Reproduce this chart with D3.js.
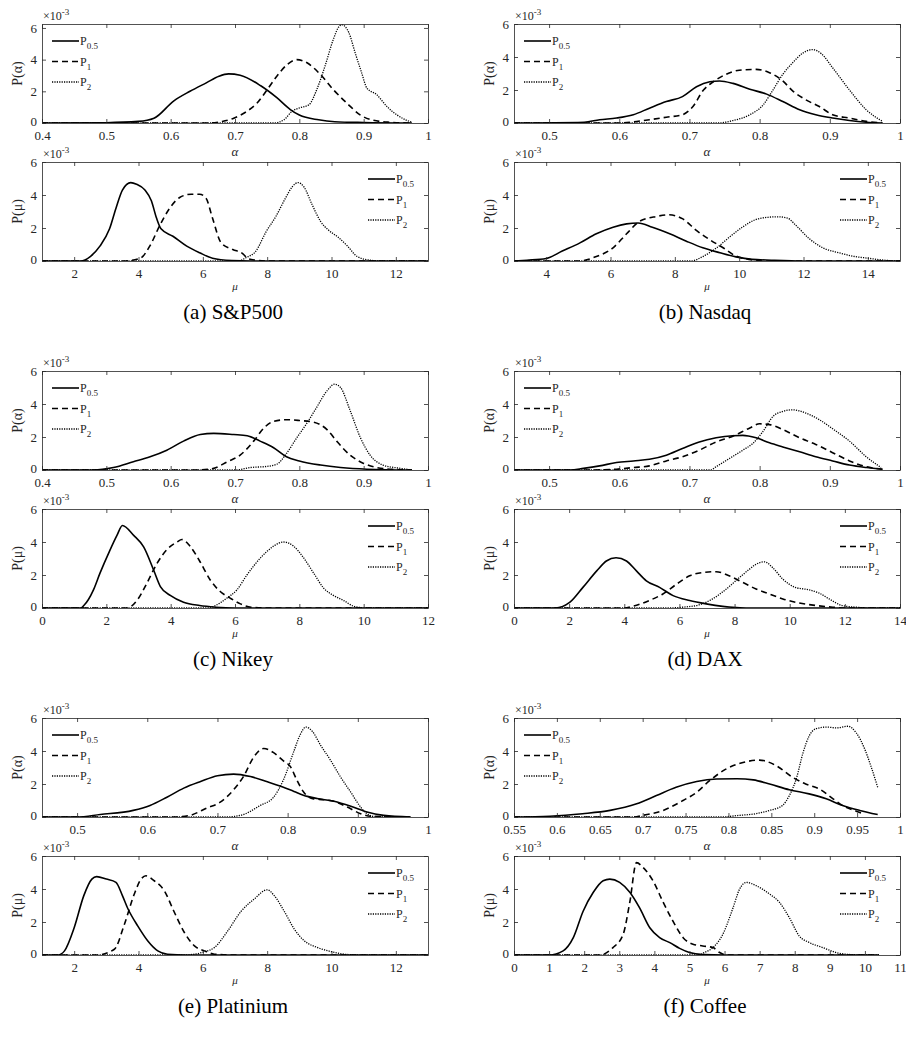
<!DOCTYPE html>
<html>
<head>
<meta charset="utf-8">
<script src="https://cdn.jsdelivr.net/npm/d3@7"></script>
<style>
  body { margin: 0; background: #fff; }
  svg text { font-family: "Liberation Serif", "Times New Roman", serif; }
</style>
</head>
<body>
<svg id="fig" width="906" height="1045"></svg>
<script>
// ---- Panel titles ----
const captions = ["(a) S&P500", "(b) Nasdaq", "(c) Nikey", "(d) DAX", "(e) Platinium", "(f) Coffee"];

// ---- Axis ranges and ticks (alpha panels, then mu panels) ----
const alphaDomains = [[0.4, 1], [0.45, 1], [0.4, 1], [0.45, 1], [0.45, 1], [0.55, 1]];
const alphaTicks = [
  [0.4, 0.5, 0.6, 0.7, 0.8, 0.9, 1],
  [0.5, 0.6, 0.7, 0.8, 0.9, 1],
  [0.4, 0.5, 0.6, 0.7, 0.8, 0.9, 1],
  [0.5, 0.6, 0.7, 0.8, 0.9, 1],
  [0.5, 0.6, 0.7, 0.8, 0.9, 1],
  [0.55, 0.6, 0.65, 0.7, 0.75, 0.8, 0.85, 0.9, 0.95, 1]
];
const alphaYMax = [6.25, 6, 6, 6, 6, 6];
const muDomains = [[1, 13], [3, 15], [0, 12], [0, 14], [1, 13], [0, 11]];
const muTicks = [
  [2, 4, 6, 8, 10, 12],
  [4, 6, 8, 10, 12, 14],
  [0, 2, 4, 6, 8, 10, 12],
  [0, 2, 4, 6, 8, 10, 12, 14],
  [2, 4, 6, 8, 10, 12],
  [0, 1, 2, 3, 4, 5, 6, 7, 8, 9, 10, 11]
];
const yTicks = [0, 2, 4, 6];
const seriesNames = ["0.5", "1", "2"];

// ---- Density curves, values in units of 1e-3 ----
// (a) S&P500
const spAlphaP05 = [[0.40,0],[0.50,0.02],[0.55,0.1],[0.574,0.3],[0.605,1.4],[0.63,2.0],[0.656,2.55],[0.675,2.95],[0.69,3.1],[0.708,3.02],[0.74,2.35],[0.765,1.6],[0.786,0.85],[0.80,0.5],[0.83,0.2],[0.855,0.08],[0.9,0.03],[0.975,0]];
const spAlphaP1 = [[0.40,0],[0.66,0],[0.68,0.1],[0.698,0.3],[0.719,0.75],[0.734,1.25],[0.75,2.1],[0.765,2.95],[0.78,3.65],[0.796,4.0],[0.812,3.8],[0.833,3.05],[0.853,2.1],[0.874,1.25],[0.895,0.5],[0.915,0.17],[0.94,0.05],[0.975,0]];
const spAlphaP2 = [[0.40,0],[0.76,0],[0.776,0.2],[0.789,0.75],[0.80,0.95],[0.815,1.15],[0.827,2.1],[0.84,3.6],[0.853,5.3],[0.861,6.05],[0.866,6.2],[0.877,5.7],[0.887,4.4],[0.897,3.15],[0.905,2.2],[0.92,1.8],[0.936,1.05],[0.952,0.5],[0.967,0.17],[0.975,0.05]];
const spMuP05 = [[1,0],[2.2,0],[2.5,0.27],[2.8,0.9],[3.1,1.95],[3.3,3.2],[3.5,4.3],[3.76,4.75],[3.94,4.65],[4.2,4.3],[4.4,3.65],[4.56,2.6],[4.7,1.95],[5.07,1.5],[5.5,0.9],[5.9,0.5],[6.3,0.17],[6.9,0.03],[7.5,0],[13,0]];
const spMuP1 = [[1,0],[3.5,0],[4.04,0.15],[4.35,0.9],[4.66,2.15],[4.97,3.2],[5.28,3.85],[5.64,4.05],[5.9,4.05],[6.1,3.8],[6.3,2.6],[6.57,1.1],[6.93,0.7],[7.24,0.45],[7.4,0.15],[7.65,0.05],[8,0],[13,0]];
const spMuP2 = [[1,0],[7.1,0],[7.34,0.2],[7.65,0.6],[7.96,1.75],[8.27,2.7],[8.58,3.85],[8.78,4.5],[8.96,4.75],[9.14,4.5],[9.4,3.4],[9.66,2.4],[9.92,1.85],[10.2,1.45],[10.5,0.9],[10.8,0.27],[11.2,0.05],[11.6,0],[13,0]];
// (b) Nasdaq
const ndAlphaP05 = [[0.45,0],[0.55,0.05],[0.572,0.2],[0.596,0.3],[0.62,0.5],[0.643,0.9],[0.667,1.3],[0.69,1.6],[0.71,2.2],[0.729,2.5],[0.743,2.55],[0.762,2.4],[0.786,2.05],[0.81,1.75],[0.833,1.3],[0.857,0.8],[0.88,0.5],[0.904,0.3],[0.928,0.15],[0.952,0.05],[0.975,0]];
const ndAlphaP1 = [[0.45,0],[0.60,0],[0.643,0.2],[0.667,0.35],[0.69,0.5],[0.705,1.0],[0.72,2.0],[0.734,2.5],[0.752,2.95],[0.771,3.2],[0.795,3.25],[0.814,3.05],[0.833,2.55],[0.847,1.95],[0.866,1.4],[0.885,1.0],[0.904,0.5],[0.928,0.3],[0.952,0.1],[0.975,0]];
const ndAlphaP2 = [[0.45,0],[0.74,0],[0.762,0.15],[0.786,0.5],[0.805,1.1],[0.819,2.0],[0.833,2.95],[0.847,3.65],[0.862,4.25],[0.875,4.45],[0.888,4.2],[0.904,3.35],[0.928,2.0],[0.952,0.8],[0.975,0.1]];
const ndMuP05 = [[3,0],[3.4,0.05],[4.0,0.15],[4.5,0.6],[5.05,1.1],[5.56,1.65],[6.08,2.05],[6.5,2.25],[6.86,2.3],[7.3,2.05],[7.84,1.65],[8.36,1.2],[8.87,0.8],[9.4,0.5],[9.9,0.25],[10.4,0.1],[11,0.05],[12,0],[15,0]];
const ndMuP1 = [[3,0],[5.0,0],[5.56,0.27],[6.08,0.8],[6.5,1.65],[6.9,2.4],[7.43,2.7],[7.8,2.8],[8.25,2.55],[8.67,1.85],[9.08,1.3],[9.5,0.8],[9.9,0.3],[10.3,0.1],[10.8,0],[15,0]];
const ndMuP2 = [[3,0],[8.5,0],[8.87,0.27],[9.3,0.8],[9.7,1.45],[10.1,2.05],[10.5,2.5],[10.9,2.65],[11.2,2.68],[11.5,2.6],[11.77,2.15],[12.18,1.35],[12.6,0.8],[13.1,0.5],[13.6,0.27],[14.0,0.17],[14.5,0.05],[15,0]];
// (c) Nikey
const nkAlphaP05 = [[0.4,0],[0.48,0],[0.511,0.15],[0.542,0.5],[0.568,0.8],[0.594,1.2],[0.62,1.75],[0.646,2.15],[0.667,2.22],[0.698,2.15],[0.719,2.08],[0.739,1.75],[0.76,1.35],[0.78,0.8],[0.8,0.55],[0.833,0.3],[0.864,0.15],[0.905,0.05],[0.975,0]];
const nkAlphaP1 = [[0.4,0],[0.64,0],[0.667,0.1],[0.688,0.5],[0.708,0.9],[0.729,1.75],[0.745,2.55],[0.76,2.95],[0.78,3.05],[0.8,3.0],[0.822,2.9],[0.843,2.45],[0.858,1.75],[0.879,0.9],[0.9,0.4],[0.92,0.15],[0.95,0.03],[0.975,0]];
const nkAlphaP2 = [[0.4,0],[0.7,0],[0.724,0.15],[0.75,0.22],[0.765,0.35],[0.78,1.0],[0.796,1.95],[0.812,2.85],[0.827,3.8],[0.843,4.8],[0.855,5.2],[0.864,5.0],[0.879,3.6],[0.895,1.95],[0.91,0.9],[0.93,0.3],[0.957,0.1],[0.975,0]];
const nkMuP05 = [[0,0],[1.2,0],[1.3,0.15],[1.6,1.1],[1.8,2.1],[2.1,3.45],[2.33,4.4],[2.5,5.0],[2.85,4.4],[3.16,3.7],[3.47,2.3],[3.68,1.3],[4.0,0.75],[4.4,0.35],[4.9,0.15],[5.4,0.05],[6,0],[12,0]];
const nkMuP1 = [[0,0],[2.65,0],[2.95,0.45],[3.26,1.5],[3.56,2.65],[3.89,3.55],[4.2,4.0],[4.35,4.15],[4.6,3.75],[4.9,2.85],[5.23,1.7],[5.54,1.0],[5.85,0.6],[6.17,0.25],[6.5,0.05],[7,0],[12,0]];
const nkMuP2 = [[0,0],[5.2,0],[5.34,0.1],[5.75,0.6],[6.06,1.1],[6.37,2.0],[6.8,3.05],[7.2,3.75],[7.51,4.0],[7.82,3.75],[8.13,3.05],[8.45,2.1],[8.76,1.2],[9.07,0.75],[9.38,0.45],[9.7,0.1],[10.1,0],[12,0]];
// (d) DAX
const dxAlphaP05 = [[0.45,0],[0.53,0],[0.549,0.1],[0.572,0.25],[0.596,0.45],[0.62,0.55],[0.643,0.65],[0.667,0.9],[0.69,1.3],[0.714,1.7],[0.738,1.95],[0.762,2.08],[0.776,2.1],[0.795,1.95],[0.814,1.65],[0.833,1.4],[0.857,1.1],[0.88,0.8],[0.904,0.55],[0.928,0.3],[0.952,0.15],[0.975,0.05]];
const dxAlphaP1 = [[0.45,0],[0.56,0],[0.596,0.05],[0.62,0.15],[0.643,0.25],[0.667,0.55],[0.69,0.8],[0.714,1.2],[0.738,1.7],[0.762,2.05],[0.786,2.55],[0.8,2.8],[0.814,2.75],[0.833,2.45],[0.857,1.95],[0.88,1.55],[0.904,1.05],[0.928,0.55],[0.952,0.2],[0.975,0.05]];
const dxAlphaP2 = [[0.45,0],[0.73,0],[0.738,0.2],[0.757,0.7],[0.776,1.2],[0.79,1.6],[0.805,2.35],[0.819,3.25],[0.833,3.55],[0.847,3.65],[0.866,3.45],[0.885,3.05],[0.904,2.5],[0.928,1.75],[0.952,0.8],[0.973,0.15]];
const dxMuP05 = [[0,0],[1.5,0],[2.03,0.35],[2.5,1.25],[3.0,2.25],[3.35,2.85],[3.7,3.05],[4.08,2.85],[4.44,2.25],[4.8,1.65],[5.28,1.25],[5.77,0.75],[6.37,0.45],[6.97,0.25],[7.57,0.1],[8.06,0.03],[8.5,0],[14,0]];
const dxMuP1 = [[0,0],[4.0,0],[4.3,0.1],[4.9,0.45],[5.4,0.85],[5.9,1.45],[6.37,1.95],[6.85,2.15],[7.33,2.2],[7.8,1.95],[8.3,1.55],[8.78,1.15],[9.26,0.85],[9.75,0.55],[10.35,0.3],[10.95,0.15],[11.56,0.05],[12,0],[14,0]];
const dxMuP2 = [[0,0],[5.5,0],[6.13,0.05],[6.73,0.2],[7.2,0.55],[7.7,1.15],[8.18,1.85],[8.54,2.35],[8.78,2.65],[9.08,2.8],[9.38,2.45],[9.75,1.75],[10.2,1.25],[10.7,1.1],[11.07,0.9],[11.43,0.55],[11.9,0.15],[12.4,0.05],[13,0],[14,0]];
// (e) Platinium
const ptAlphaP05 = [[0.45,0],[0.5,0],[0.533,0.15],[0.58,0.4],[0.604,0.7],[0.628,1.2],[0.652,1.75],[0.676,2.15],[0.7,2.5],[0.723,2.6],[0.747,2.45],[0.77,2.15],[0.794,1.8],[0.809,1.55],[0.828,1.25],[0.842,1.12],[0.866,0.95],[0.89,0.65],[0.913,0.3],[0.937,0.1],[0.975,0]];
const ptAlphaP1 = [[0.45,0],[0.64,0],[0.661,0.1],[0.685,0.55],[0.704,0.9],[0.723,1.65],[0.737,2.45],[0.752,3.65],[0.766,4.15],[0.78,3.9],[0.794,3.4],[0.804,3.05],[0.813,2.25],[0.823,1.5],[0.837,1.1],[0.851,1.05],[0.866,0.95],[0.885,0.6],[0.904,0.2],[0.918,0.05],[0.975,0]];
const ptAlphaP2 = [[0.45,0],[0.71,0],[0.733,0.1],[0.761,0.7],[0.78,1.2],[0.794,2.25],[0.809,4.0],[0.818,5.0],[0.826,5.45],[0.835,5.2],[0.847,4.35],[0.861,3.45],[0.875,2.45],[0.89,1.5],[0.904,0.6],[0.913,0.2],[0.923,0.03],[0.975,0]];
const ptMuP05 = [[1,0],[1.5,0],[1.7,0.25],[2.0,1.65],[2.3,3.6],[2.55,4.6],[2.7,4.75],[3.0,4.6],[3.3,4.4],[3.5,3.6],[3.66,2.85],[3.98,1.75],[4.29,0.85],[4.6,0.25],[4.9,0.05],[5.5,0],[13,0]];
const ptMuP1 = [[1,0],[2.7,0],[3.25,0.35],[3.56,1.85],[3.87,3.7],[4.08,4.6],[4.23,4.8],[4.49,4.5],[4.8,3.9],[5.1,2.65],[5.43,1.35],[5.74,0.55],[6.05,0.25],[6.36,0.05],[7,0],[13,0]];
const ptMuP2 = [[1,0],[5.4,0],[5.74,0.05],[6.05,0.2],[6.36,0.45],[6.77,1.45],[7.19,2.65],[7.6,3.4],[8.0,3.95],[8.22,3.6],[8.53,2.65],[8.85,1.55],[9.16,0.85],[9.57,0.45],[10.0,0.2],[10.5,0.03],[11,0],[13,0]];
// (f) Coffee
const cfAlphaP05 = [[0.55,0],[0.592,0.05],[0.63,0.2],[0.662,0.4],[0.693,0.8],[0.716,1.3],[0.739,1.8],[0.763,2.15],[0.786,2.3],[0.81,2.32],[0.829,2.25],[0.848,2.0],[0.871,1.65],[0.894,1.4],[0.914,1.1],[0.933,0.7],[0.953,0.4],[0.974,0.15]];
const cfAlphaP1 = [[0.55,0],[0.69,0],[0.7,0.1],[0.724,0.4],[0.747,1.0],[0.763,1.5],[0.778,2.2],[0.797,2.9],[0.817,3.3],[0.836,3.45],[0.856,3.1],[0.875,2.4],[0.89,2.0],[0.906,1.7],[0.922,1.1],[0.933,0.7],[0.949,0.35],[0.957,0.2]];
const cfAlphaP2 = [[0.55,0],[0.79,0],[0.813,0.1],[0.832,0.2],[0.848,0.4],[0.863,0.7],[0.871,1.3],[0.879,2.3],[0.887,3.9],[0.894,4.9],[0.902,5.35],[0.914,5.45],[0.926,5.4],[0.939,5.5],[0.949,5.1],[0.959,4.1],[0.966,3.1],[0.974,1.8]];
const cfMuP05 = [[0,0],[1.0,0],[1.4,0.25],[1.69,1.05],[1.97,2.65],[2.26,3.8],[2.54,4.5],[2.73,4.6],[3.01,4.4],[3.3,3.8],[3.58,2.85],[3.87,1.65],[4.15,1.05],[4.44,0.75],[4.72,0.4],[5.0,0.15],[5.38,0.03],[6,0],[10.4,0]];
const cfMuP1 = [[0,0],[2.45,0],[2.82,0.45],[3.11,1.25],[3.3,3.2],[3.49,5.6],[3.68,5.3],[3.96,4.5],[4.25,3.2],[4.53,2.05],[4.82,1.05],[5.1,0.65],[5.38,0.55],[5.67,0.45],[5.86,0.15],[6.05,0],[10.4,0]];
const cfMuP2 = [[0,0],[5.3,0],[5.38,0.1],[5.67,0.45],[5.95,1.25],[6.24,2.85],[6.43,4.0],[6.62,4.4],[6.9,4.2],[7.28,3.7],[7.56,3.2],[7.85,2.25],[8.13,1.15],[8.42,0.75],[8.8,0.45],[9.18,0.15],[9.55,0.03],[10,0],[10.4,0]];

const alphaSeries = [
  [spAlphaP05, spAlphaP1, spAlphaP2], [ndAlphaP05, ndAlphaP1, ndAlphaP2],
  [nkAlphaP05, nkAlphaP1, nkAlphaP2], [dxAlphaP05, dxAlphaP1, dxAlphaP2],
  [ptAlphaP05, ptAlphaP1, ptAlphaP2], [cfAlphaP05, cfAlphaP1, cfAlphaP2]
];
const muSeries = [
  [spMuP05, spMuP1, spMuP2], [ndMuP05, ndMuP1, ndMuP2],
  [nkMuP05, nkMuP1, nkMuP2], [dxMuP05, dxMuP1, dxMuP2],
  [ptMuP05, ptMuP1, ptMuP2], [cfMuP05, cfMuP1, cfMuP2]
];

// ---- Layout ----
const colX = [[42, 428], [514, 900]];
const rowTop = [24, 371, 718];
const panelH = 99;
const muOffset = 138;
const axisColor = "#262626";
const lineStyles = [
  { width: 1.6, dash: null },
  { width: 1.6, dash: "6,4" },
  { width: 1.3, dash: "1.2,1.2" }
];

const svg = d3.select("#fig");

function drawPanel(x0, x1, y0, xDomain, xTickVals, yMax, series, varName, legendRight, labelGap, labelSize) {
  const x = d3.scaleLinear().domain(xDomain).range([x0, x1]);
  const y = d3.scaleLinear().domain([0, yMax]).range([y0 + panelH, y0]);
  const g = svg.append("g");
  const fmt = d3.format("~g");

  // curves
  const clipId = "clip" + Math.round(x0) + "_" + Math.round(y0);
  g.append("clipPath").attr("id", clipId)
    .append("rect").attr("x", x0).attr("y", y0 - 2).attr("width", x1 - x0).attr("height", panelH + 2);
  const line = d3.line().x(d => x(d[0])).y(d => y(d[1])).curve(d3.curveMonotoneX);
  series.forEach((s, i) => {
    g.append("path").datum(s)
      .attr("d", line)
      .attr("clip-path", `url(#${clipId})`)
      .attr("fill", "none").attr("stroke", "#000")
      .attr("stroke-width", lineStyles[i].width)
      .attr("stroke-dasharray", lineStyles[i].dash);
  });

  // axes (ticks point inward, box on all sides)
  const bottom = g.append("g").attr("transform", `translate(0,${y0 + panelH})`)
    .call(d3.axisBottom(x).tickValues(xTickVals).tickSizeInner(-4).tickSizeOuter(0).tickPadding(8).tickFormat(fmt));
  const top = g.append("g").attr("transform", `translate(0,${y0})`)
    .call(d3.axisTop(x).tickValues(xTickVals).tickSizeInner(-4).tickSizeOuter(0).tickFormat(""));
  const left = g.append("g").attr("transform", `translate(${x0},0)`)
    .call(d3.axisLeft(y).tickValues(yTicks).tickSizeInner(-4).tickSizeOuter(0).tickPadding(5).tickFormat(fmt));
  const right = g.append("g").attr("transform", `translate(${x1},0)`)
    .call(d3.axisRight(y).tickValues(yTicks).tickSizeInner(-4).tickSizeOuter(0).tickFormat(""));
  [bottom, top, left, right].forEach(a => {
    a.select(".domain").attr("stroke", axisColor).attr("stroke-width", 0.8);
    a.selectAll(".tick line").attr("stroke", axisColor).attr("stroke-width", 0.8);
    a.selectAll("text").attr("fill", axisColor).attr("font-size", 13)
      .style("font-family", "'Liberation Serif', serif");
  });
  // keep the y-axis zero label clear of the first x-axis label
  left.selectAll(".tick").filter(d => d === 0).select("text").attr("dy", "0.2em");

  // exponent marker
  const ex = g.append("text").attr("x", x0 + 1).attr("y", y0 - 4)
    .attr("font-size", 12).attr("fill", axisColor);
  ex.append("tspan").text("\u00d710");
  ex.append("tspan").attr("dy", -5).attr("font-size", 9).text("-3");

  // y label
  g.append("text")
    .attr("transform", `translate(${x0 - 20},${y0 + panelH / 2}) rotate(-90)`)
    .attr("text-anchor", "middle").attr("font-size", 14).attr("fill", axisColor)
    .text(`P(${varName})`);

  // x label
  g.append("text").attr("x", (x0 + x1) / 2).attr("y", y0 + panelH + labelGap)
    .attr("text-anchor", "middle").attr("font-size", labelSize).attr("fill", axisColor)
    .attr("font-style", "italic")
    .text(varName);

  // legend
  const lx = legendRight ? x1 - 60 : x0 + 10;
  const ly = y0 + 17;
  seriesNames.forEach((name, i) => {
    const yy = ly + i * 20.5;
    g.append("line").attr("x1", lx).attr("x2", lx + 27).attr("y1", yy).attr("y2", yy)
      .attr("stroke", "#000").attr("stroke-width", lineStyles[i].width)
      .attr("stroke-dasharray", lineStyles[i].dash);
    const t = g.append("text").attr("x", lx + 28).attr("y", yy + 4)
      .attr("font-size", 12).attr("fill", axisColor);
    t.append("tspan").text("P");
    t.append("tspan").attr("dy", 4).attr("font-size", 9).text(name);
  });
}

captions.forEach((cap, k) => {
  const col = k % 2;
  const row = Math.floor(k / 2);
  const [x0, x1] = colX[col];
  const top = rowTop[row];
  drawPanel(x0, x1, top, alphaDomains[k], alphaTicks[k], alphaYMax[k], alphaSeries[k], "\u03b1", false, 33, 13);
  drawPanel(x0, x1, top + muOffset, muDomains[k], muTicks[k], 6, muSeries[k], "\u03bc", true, 29, 11);
  svg.append("text").attr("x", (x0 + x1) / 2 - 2).attr("y", top + 295)
    .attr("text-anchor", "middle").attr("font-size", 21).attr("fill", "#000")
    .text(cap);
});
</script>
</body>
</html>
